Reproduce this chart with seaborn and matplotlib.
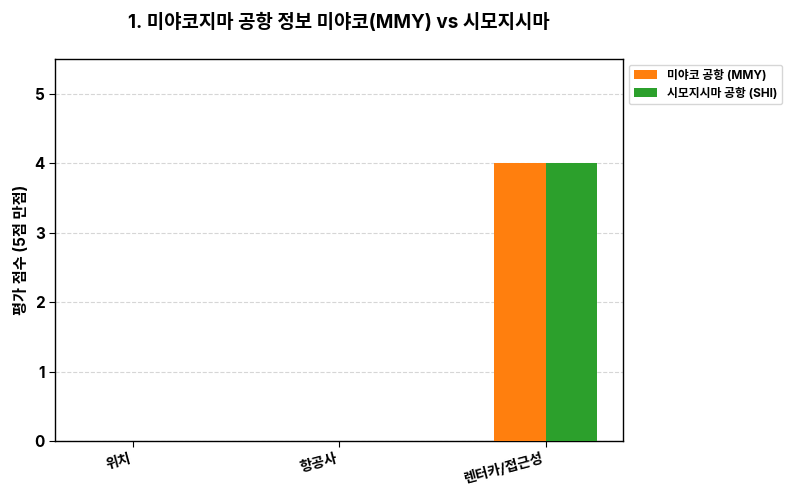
import pandas as pd
import matplotlib
matplotlib.use("Agg")
import matplotlib.pyplot as plt
import seaborn as sns

# chart values
categories = ['위치', '항공사', '렌터카/접근성']
airports = ['미야코 공항 (MMY)', '시모지시마 공항 (SHI)']
mmy_scores = [0, 0, 4]
shi_scores = [0, 0, 4]
colors = ['#ff7f0e', '#2ca02c']

sns.set_style('white')
plt.rcParams['font.family'] = ['Inter', 'Noto Sans CJK KR', 'DejaVu Sans']
plt.rcParams['font.weight'] = 'bold'
plt.rcParams['text.color'] = 'black'
plt.rcParams['axes.labelcolor'] = 'black'
plt.rcParams['xtick.color'] = 'black'
plt.rcParams['ytick.color'] = 'black'

df = pd.DataFrame({
    'category': categories * 2,
    'airport': [airports[0]] * 3 + [airports[1]] * 3,
    'score': mmy_scores + shi_scores,
})

fig, ax = plt.subplots(figsize=(8, 5), dpi=100)
fig.subplots_adjust(left=0.069, right=0.779, top=0.882, bottom=0.118)

sns.barplot(data=df, x='category', y='score', hue='airport',
            palette=colors, width=0.5, saturation=1, linewidth=0,
            ax=ax, zorder=3)

ax.set_xlim(-0.375, 2.375)
ax.set_ylim(0, 5.5)
ax.grid(axis='y', linestyle='--', color='#cccccc', alpha=0.8, zorder=0)
ax.set_axisbelow(True)
for s in ax.spines.values():
    s.set_visible(True)
    s.set_color('black')
    s.set_linewidth(1)

ax.tick_params(axis='both', which='both', length=4, color='black',
               bottom=True, left=True)
ax.set_xlabel('')
ax.set_ylabel('평가 점수 (5점 만점)', fontsize=11, fontweight='bold')
plt.setp(ax.get_xticklabels(), rotation=15, ha='right', fontsize=10, fontweight='bold')
plt.setp(ax.get_yticklabels(), fontsize=11, fontweight='bold')

ax.set_title('1. 미야코지마 공항 정보 미야코(MMY) vs 시모지시마',
             fontsize=13.6, fontweight='bold', pad=22)

handles, labels = ax.get_legend_handles_labels()
ax.legend(handles, labels, loc='upper left', bbox_to_anchor=(1.0, 1.0),
          prop={'size': 8.5, 'weight': 'bold'}, frameon=True)

fig.savefig('out.png', dpi=100)
